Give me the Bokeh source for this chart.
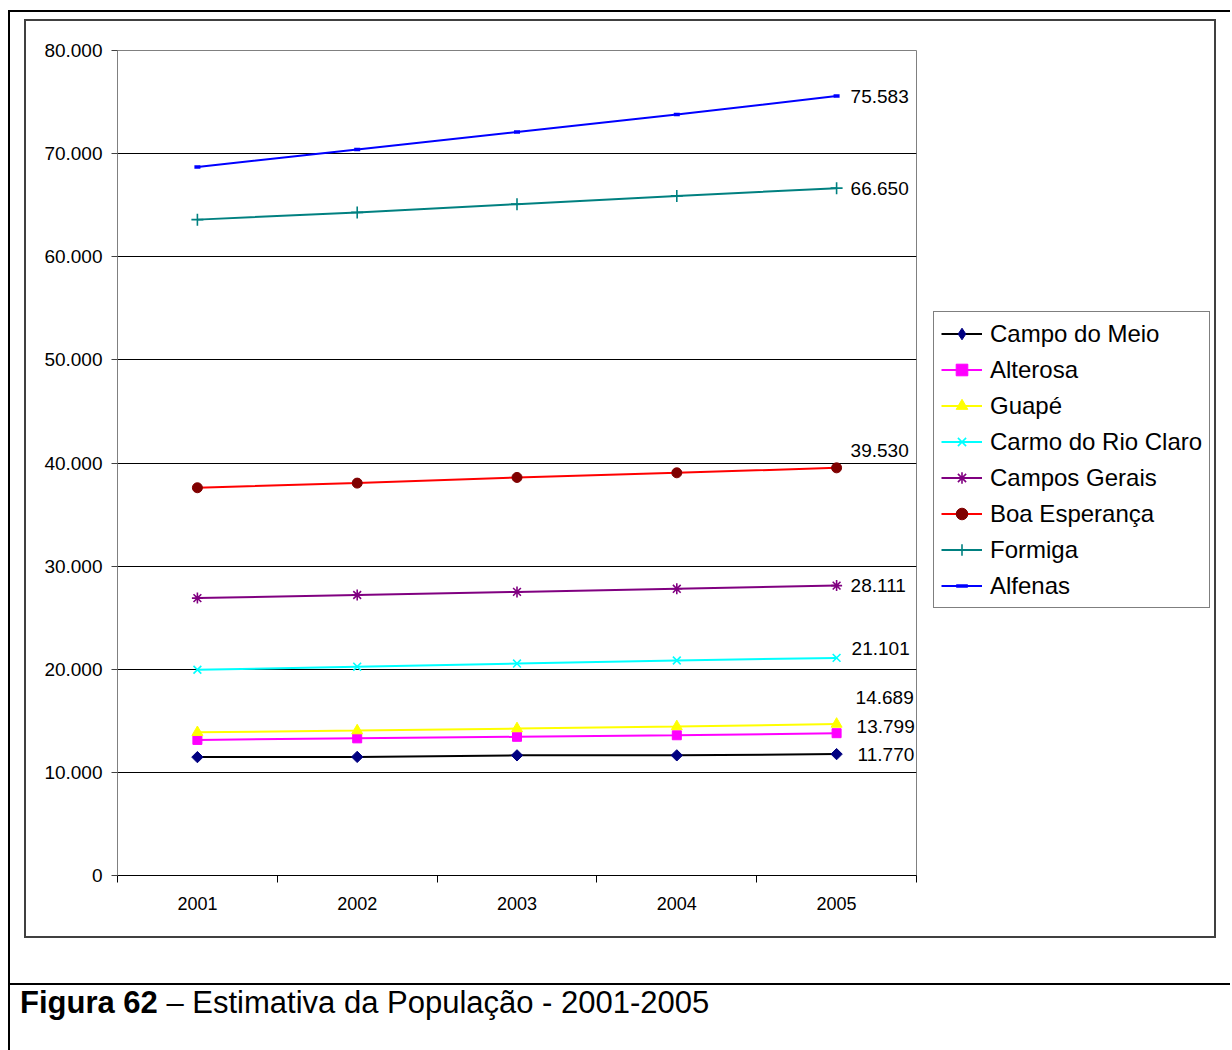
import math
from bokeh.plotting import figure
from bokeh.layouts import column, row
from bokeh.models import (ColumnDataSource, FixedTicker, Legend, LegendItem, LabelSet,
                          Range1d, Div)
from bokeh.core.properties import value
from bokeh.embed import file_html
from bokeh.resources import INLINE

# ---------------- data ----------------
years = [2001, 2002, 2003, 2004, 2005]
year_labels = ["2001", "2002", "2003", "2004", "2005"]

series_names = ["Campo do Meio", "Alterosa", "Guapé", "Carmo do Rio Claro",
                "Campos Gerais", "Boa Esperança", "Formiga", "Alfenas"]
campo_do_meio = [11480, 11500, 11650, 11650, 11770]
alterosa = [13150, 13300, 13450, 13600, 13799]
guape = [13880, 14050, 14250, 14450, 14689]
carmo_do_rio_claro = [19950, 20250, 20550, 20850, 21101]
campos_gerais = [26900, 27200, 27500, 27800, 28111]
boa_esperanca = [37600, 38050, 38600, 39050, 39530]
formiga = [63600, 64300, 65100, 65900, 66650]
alfenas = [68700, 70400, 72100, 73800, 75583]

y_ticks = [0, 10000, 20000, 30000, 40000, 50000, 60000, 70000, 80000]
y_tick_labels = ["0", "10.000", "20.000", "30.000", "40.000", "50.000",
                 "60.000", "70.000", "80.000"]

caption_bold = "Figura 62"
caption_rest = "– Estimativa da População - 2001-2005"

all_series = [campo_do_meio, alterosa, guape, carmo_do_rio_claro,
              campos_gerais, boa_esperanca, formiga, alfenas]

# ---------------- styles ----------------
FONT = "Liberation Sans"
line_colors = ["#000000", "#FF00FF", "#FFFF00", "#00FFFF", "#800080", "#FF0000", "#008080", "#0000FF"]
marker_colors = ["#000080", "#FF00FF", "#FFFF00", "#00FFFF", "#800080", "#800000", "#008080", "#0000FF"]
markers = ["square", "square", "triangle", "x", "asterisk", "circle", "cross", "dash"]
legend_markers = ["diamond", "square", "triangle", "x", "asterisk", "circle", "cross", "dash"]
marker_angles = [math.pi / 4, 0, 0, 0, 0, 0, 0, 0]
marker_sizes = [8, 9, 11, 11, 11, 10, 12, 6]
marker_lw = [1, 1, 1, 1.6, 1.6, 1, 1.6, 3.5]
# data-label offsets in px (x right, y up)
label_dx = [21, 20, 19, 15, 14, 14, 14, 14]
label_dy = [0, 7, 27, 9, 0, 17, 0, 0]

# ---------------- main chart ----------------
p = figure(width=892, height=915, output_backend="svg", toolbar_location=None,
           x_range=Range1d(2000.5, 2005.5), y_range=Range1d(0, 80000),
           min_border_left=91, min_border_top=29, min_border_right=2,
           min_border_bottom=61, background_fill_color="white",
           border_fill_color="white")
p.outline_line_color = "#808080"
p.outline_line_width = 1

p.xaxis.ticker = FixedTicker(ticks=years, minor_ticks=[2000.5, 2001.5, 2002.5, 2003.5, 2004.5, 2005.5])
p.xaxis.major_label_overrides = {y: l for y, l in zip(years, year_labels)}
p.xaxis.major_tick_line_color = None
p.xaxis.minor_tick_line_color = "black"
p.xaxis.minor_tick_out = 7
p.xaxis.minor_tick_in = 0
p.xaxis.axis_line_color = "black"
p.xaxis.major_label_text_font = FONT
p.xaxis.major_label_text_font_size = "18px"
p.xaxis.major_label_text_color = "black"
p.xaxis.major_label_standoff = 14

p.yaxis.ticker = FixedTicker(ticks=y_ticks, minor_ticks=[])
p.yaxis.major_label_overrides = {t: l for t, l in zip(y_ticks, y_tick_labels)}
p.yaxis.axis_line_color = "#808080"
p.yaxis.major_tick_line_color = "#404040"
p.yaxis.major_tick_out = 6
p.yaxis.major_tick_in = 0
p.yaxis.minor_tick_line_color = None
p.yaxis.major_label_text_font = FONT
p.yaxis.major_label_text_font_size = "19px"
p.yaxis.major_label_text_color = "black"
p.yaxis.major_label_standoff = 9

p.xgrid.grid_line_color = None
p.ygrid.ticker = FixedTicker(ticks=y_ticks[1:-1])
p.ygrid.grid_line_color = "black"
p.ygrid.grid_line_width = 1

# ---------------- legend panel (separate figure) ----------------
pl = figure(width=296, height=915, output_backend="svg", toolbar_location=None,
            x_range=Range1d(0, 1), y_range=Range1d(0, 1),
            x_axis_location=None, y_axis_location=None,
            min_border=0, background_fill_color="white", border_fill_color="white")
pl.outline_line_color = None
pl.grid.grid_line_color = None

items = []
for name, vals, lc, mc, mk, lmk, ma, ms, mw in zip(series_names, all_series, line_colors,
                                                   marker_colors, markers, legend_markers,
                                                   marker_angles, marker_sizes, marker_lw):
    src = ColumnDataSource(dict(x=years, y=vals))
    p.line("x", "y", source=src, line_color=lc, line_width=2)
    p.scatter("x", "y", source=src, marker=mk, size=ms, angle=ma,
              fill_color=mc, line_color=mc, line_width=mw)
    # legend swatches: same series drawn in the legend panel (outside its visible range)
    lr = pl.line("x", "y", source=src, line_color=lc, line_width=2)
    sr = pl.scatter("x", "y", source=src, marker=lmk, size=ms,
                    fill_color=mc, line_color=mc, line_width=mw)
    items.append(LegendItem(label=name, renderers=[lr, sr]))

last_vals = [s[-1] for s in all_series]
lab_src = ColumnDataSource(dict(
    x=[years[-1]] * len(last_vals), y=last_vals,
    text=[f"{v:,}".replace(",", ".") for v in last_vals],
    dx=label_dx, dy=label_dy))
p.add_layout(LabelSet(x="x", y="y", text="text", source=lab_src,
                      x_offset="dx", y_offset="dy",
                      text_font=value(FONT), text_font_size=value("19px"),
                      text_color="black", text_baseline="middle",
                      text_align="left"))

legend = Legend(items=items, location=(15, 267),
                label_text_font=FONT, label_text_font_size="24px",
                label_text_color="black", glyph_width=41, glyph_height=29,
                label_height=29, spacing=7, padding=7, margin=0,
                label_standoff=8, border_line_color="black",
                border_line_width=1, background_fill_color="white",
                background_fill_alpha=1)
pl.add_layout(legend, "center")

# ---------------- page decorations ----------------
chart_box = row(p, pl, spacing=0, margin=(9, 0, 0, 16),
                styles={"outline": "2px solid #404040"})
top_line = Div(text="", width=1222, height=2, margin=(10, 0, 0, 8),
               styles={"background-color": "black"})
left_line = Div(text="", width=2, height=1038, margin=(0, 0, 0, 8),
                styles={"background-color": "black"})
sep_line = Div(text="", width=1220, height=2, margin=(47, 0, 0, 0),
               styles={"background-color": "black"})
caption = Div(text=f"<b>{caption_bold}</b> {caption_rest}", width=1200, height=50,
              margin=(0, 0, 0, 10),
              styles={"font-family": FONT, "font-size": "31px", "color": "black",
                      "line-height": "36px", "white-space": "nowrap"})

content = column(chart_box, sep_line, caption, spacing=0)
page = column(top_line, row(left_line, content, spacing=0), spacing=0)

open("out.html", "w").write(file_html(page, INLINE, title="Estimativa da População"))
